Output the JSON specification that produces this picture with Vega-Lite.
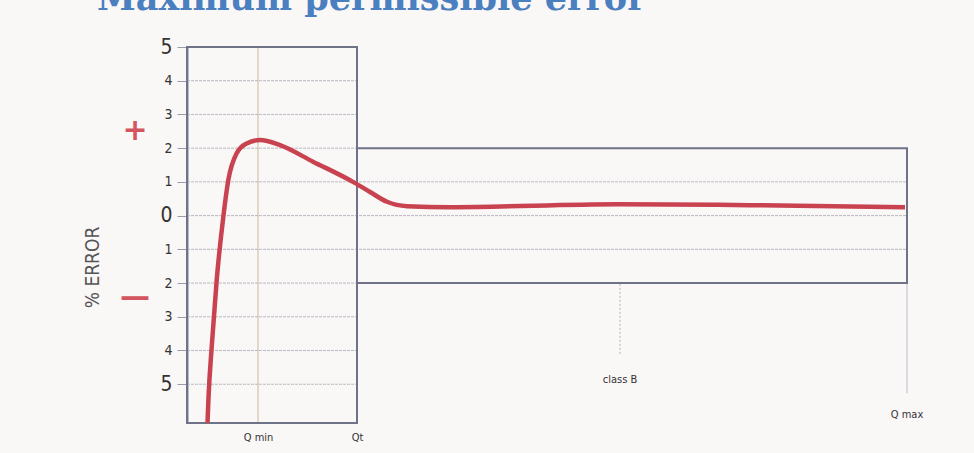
{
  "$schema": "https://vega.github.io/schema/vega-lite/v6.json",
  "autosize": "none",
  "width": 720,
  "height": 376,
  "padding": {"left": 187, "top": 47, "right": 67, "bottom": 30},
  "background": "#faf7f7",
  "config": {"view": {"stroke": null}, "axisY": {"labelOverlap": false}},
  "title": {
    "text": "Maximum permissible error",
    "anchor": "start",
    "font": "DejaVu Serif",
    "fontSize": 35,
    "fontWeight": "bold",
    "color": "#4a7fc0",
    "baseline": "alphabetic",
    "offset": 0,
    "dx": 14,
    "dy": 9
  },
  "datasets": {
    "grid": [
      {"y": 4, "x": 0, "x2": 170},
      {"y": 3, "x": 0, "x2": 170},
      {"y": 2, "x": 0, "x2": 170},
      {"y": 1, "x": 0, "x2": 720},
      {"y": 0, "x": 0, "x2": 720},
      {"y": -1, "x": 0, "x2": 720},
      {"y": -2, "x": 0, "x2": 170},
      {"y": -3, "x": 0, "x2": 170},
      {"y": -4, "x": 0, "x2": 170},
      {"y": -5, "x": 0, "x2": 170}
    ],
    "boxes": [
      {"name": "low range", "x": 0, "x2": 170, "y": -6.15, "y2": 5},
      {"name": "class B", "x": 170, "x2": 720, "y": -2, "y2": 2}
    ],
    "verticals": [
      {"name": "Qmin", "x": 71, "y": -6.15, "y2": 5},
      {"name": "class B", "x": 433, "y": -4.1, "y2": -2},
      {"name": "Qmax", "x": 720, "y": -5.27, "y2": -2}
    ],
    "curve": [
      {"q": 20.5, "err": -6.15},
      {"q": 21.5, "err": -5.4},
      {"q": 24.7, "err": -3.89},
      {"q": 29.7, "err": -1.91},
      {"q": 36.3, "err": -0.04},
      {"q": 41.3, "err": 1.05},
      {"q": 49.7, "err": 1.85},
      {"q": 59.7, "err": 2.14},
      {"q": 73, "err": 2.24},
      {"q": 93, "err": 2.09},
      {"q": 126, "err": 1.6},
      {"q": 166, "err": 1.0},
      {"q": 183, "err": 0.7},
      {"q": 200, "err": 0.41},
      {"q": 220, "err": 0.28},
      {"q": 263, "err": 0.25},
      {"q": 430, "err": 0.34},
      {"q": 563, "err": 0.31},
      {"q": 718, "err": 0.25}
    ],
    "labels": [
      {"text": "class B", "x": 433, "y": -4.88},
      {"text": "Q max", "x": 720, "y": -5.92}
    ],
    "signs": [
      {"text": "+", "x": -52, "y": 2.5},
      {"text": "—", "x": -52, "y": -2.42}
    ]
  },
  "layer": [
    {
      "data": {"name": "grid"},
      "mark": {"type": "rule", "color": "#b9b9c2", "strokeWidth": 1, "strokeDash": [3, 1]},
      "encoding": {
        "x": {"field": "x", "type": "quantitative", "scale": {"domain": [0, 720], "nice": false, "zero": false},
          "axis": {"values": [71, 170], "labelExpr": "datum.value == 71 ? 'Q min' : 'Qt'", "domain": false, "ticks": false, "grid": false, "title": null, "labelFont": "DejaVu Sans Condensed", "labelFontSize": 11, "labelColor": "#333333", "labelPadding": 8, "labelOverlap": false}},
        "x2": {"field": "x2"},
        "y": {"field": "y", "type": "quantitative", "scale": {"domain": [-6.15, 5], "nice": false, "zero": false},
          "axis": {
            "values": [-5, -4, -3, -2, -1, 0, 1, 2, 3, 4, 5],
            "tickCount": 12,
            "labelExpr": "format(abs(datum.value), 'd')",
            "labelOverlap": false,
            "labelBound": false,
            "grid": false,
            "domainColor": "#7a7f9e",
            "domainWidth": 2,
            "tickColor": "#9a9aa8",
            "tickSize": 10,
            "labelPadding": 5,
            "labelFont": "DejaVu Sans Condensed",
            "labelFontSize": {"condition": {"test": "abs(datum.value) == 5 || datum.value == 0", "value": 21}, "value": 14},
            "labelColor": "#333333",
            "title": "% ERROR",
            "titleFont": "DejaVu Sans Condensed",
            "titleFontSize": 19,
            "titleFontWeight": "normal",
            "titleColor": "#555555",
            "titleAngle": -90,
            "titleAlign": "center",
            "titleBaseline": "middle",
            "titleX": -95,
            "titleY": 220
          }}
      }
    },
    {
      "data": {"name": "verticals"},
      "mark": {"type": "rule", "strokeWidth": 1},
      "encoding": {
        "x": {"field": "x", "type": "quantitative"},
        "y": {"field": "y", "type": "quantitative"},
        "y2": {"field": "y2"},
        "color": {"field": "name", "type": "nominal", "scale": {"domain": ["Qmin", "class B", "Qmax"], "range": ["#c9b99c", "#b0b0b8", "#b3b3c6"]}, "legend": null},
        "strokeDash": {"field": "name", "type": "nominal", "scale": {"domain": ["Qmin", "class B", "Qmax"], "range": [[1, 0], [2, 2], [1, 0]]}, "legend": null}
      }
    },
    {
      "data": {"name": "boxes"},
      "mark": {"type": "rect", "fill": null, "fillOpacity": 0, "stroke": "#6f7388", "strokeWidth": 2},
      "encoding": {
        "x": {"field": "x", "type": "quantitative"},
        "x2": {"field": "x2"},
        "y": {"field": "y", "type": "quantitative"},
        "y2": {"field": "y2"}
      }
    },
    {
      "data": {"name": "curve"},
      "mark": {"type": "line", "color": "#c9424f", "strokeWidth": 4.5, "interpolate": "monotone", "clip": true},
      "encoding": {
        "x": {"field": "q", "type": "quantitative"},
        "y": {"field": "err", "type": "quantitative"}
      }
    },
    {
      "data": {"name": "labels"},
      "mark": {"type": "text", "font": "DejaVu Sans Condensed", "fontSize": 11, "color": "#333333"},
      "encoding": {
        "x": {"field": "x", "type": "quantitative"},
        "y": {"field": "y", "type": "quantitative"},
        "text": {"field": "text"}
      }
    },
    {
      "data": {"name": "signs"},
      "mark": {"type": "text", "font": "DejaVu Sans", "fontSize": 30, "fontWeight": "bold", "color": "#d4555f"},
      "encoding": {
        "x": {"field": "x", "type": "quantitative"},
        "y": {"field": "y", "type": "quantitative"},
        "text": {"field": "text"}
      }
    }
  ]
}
